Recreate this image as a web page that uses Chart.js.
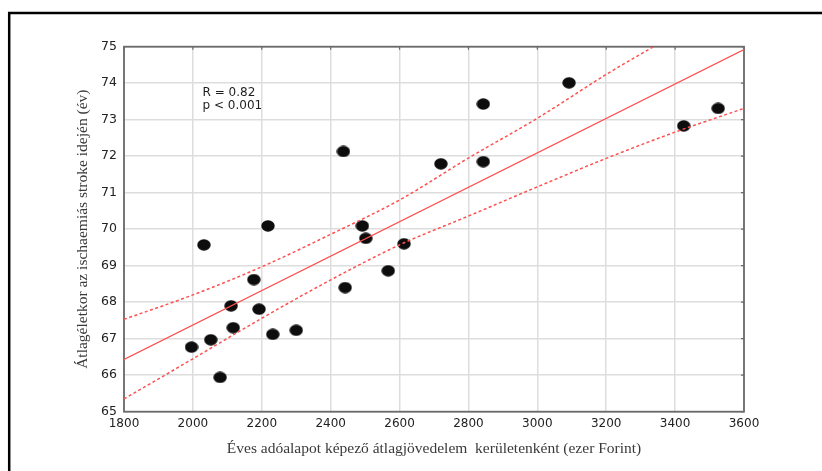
<!DOCTYPE html>
<html>
<head>
<meta charset="utf-8">
<script src="https://cdn.jsdelivr.net/npm/chart.js@4/dist/chart.umd.min.js"></script>
<style>
  html, body { margin: 0; padding: 0; background: #ffffff; overflow: hidden; }
  canvas { display: block; }
</style>
</head>
<body>
<canvas id="chart" width="822" height="471"></canvas>
<script>
// District-level values: mean taxable income (thousand HUF) vs mean age at ischaemic stroke
const incomeThousandHUF = [1996, 2032, 2052, 2079, 2111, 2117, 2177, 2192, 2218, 2232, 2300, 2437, 2442, 2492, 2502, 2567, 2613, 2720, 2843, 2843, 3092, 3425, 3525];
const meanAgeAtStroke   = [66.77, 69.57, 66.97, 65.94, 67.90, 67.30, 68.62, 67.81, 70.09, 67.12, 67.23, 72.13, 68.40, 70.09, 69.75, 68.86, 69.60, 71.79, 71.85, 73.43, 74.01, 72.83, 73.31];

// Fitted regression line
const fitX = [1800, 3600];
const fitY = [66.43, 74.92];

// 95% confidence band of the fit
const upperBandX = [1800, 2000, 2200, 2400, 2600, 2800, 3000, 3200, 3337];
const upperBandY = [67.53, 68.20, 68.97, 69.86, 70.80, 71.95, 73.04, 74.24, 75.00];
const lowerBandX = [1800, 2000, 2200, 2400, 2600, 2800, 3000, 3200, 3400, 3600];
const lowerBandY = [65.35, 66.45, 67.56, 68.61, 69.57, 70.36, 71.16, 71.94, 72.66, 73.31];

// Axis ticks and texts
const xTicks = [1800, 2000, 2200, 2400, 2600, 2800, 3000, 3200, 3400, 3600];
const yTicks = [65, 66, 67, 68, 69, 70, 71, 72, 73, 74, 75];
const statLines = ['R = 0.82', 'p < 0.001'];
const xTitle = 'Éves adóalapot képező átlagjövedelem  kerületenként (ezer Forint)';
const yTitle = 'Átlagéletkor az ischaemiás stroke idején (év)';

const toPoints = (xs, ys) => xs.map((x, i) => ({ x: x, y: ys[i] }));

// Slightly flattened black dot used as the marker
function ellipseMarker(w, h, color) {
  const c = document.createElement('canvas');
  c.width = w; c.height = h;
  const g = c.getContext('2d');
  g.fillStyle = color;
  g.beginPath();
  g.ellipse(w / 2, h / 2, w / 2 - 0.3, h / 2 - 0.3, 0, 0, Math.PI * 2);
  g.fill();
  return c;
}
const dot = ellipseMarker(14, 12, '#0d0d0d');

const RED = 'rgb(255, 80, 80)';
const tickFont = { family: '"DejaVu Sans", sans-serif', size: 12 };
const titleFont = { family: '"Liberation Serif", "Times New Roman", serif', size: 15.5 };

// White page, outer black frame, plot frame with inner tick marks, statistics text
const decorations = {
  id: 'decorations',
  beforeDraw(chart) {
    const ctx = chart.ctx;
    ctx.save();
    ctx.fillStyle = '#ffffff';
    ctx.fillRect(0, 0, chart.width, chart.height);
    ctx.strokeStyle = '#000000';
    ctx.lineWidth = 2.5;
    ctx.beginPath();
    ctx.moveTo(9.2, chart.height + 5);
    ctx.lineTo(9.2, 13);
    ctx.lineTo(chart.width + 5, 13);
    ctx.stroke();
    ctx.restore();
  },
  beforeDatasetsDraw(chart) {
    const { ctx, chartArea: a, scales } = chart;
    ctx.save();
    ctx.strokeStyle = '#6a6a6a';
    ctx.lineWidth = 1.8;
    ctx.strokeRect(a.left, a.top, a.right - a.left, a.bottom - a.top);
    ctx.lineWidth = 1.2;
    ctx.beginPath();
    xTicks.forEach(v => {
      const px = scales.x.getPixelForValue(v);
      ctx.moveTo(px, a.top);
      ctx.lineTo(px, a.top + 3);
    });
    yTicks.forEach(v => {
      const py = scales.y.getPixelForValue(v);
      ctx.moveTo(a.right, py);
      ctx.lineTo(a.right - 3, py);
    });
    ctx.stroke();
    ctx.restore();
  },
  afterDatasetsDraw(chart) {
    const { ctx, scales } = chart;
    ctx.save();
    ctx.font = '12px "DejaVu Sans", sans-serif';
    ctx.fillStyle = '#1e1e1e';
    ctx.textAlign = 'left';
    ctx.textBaseline = 'middle';
    const x0 = scales.x.getPixelForValue(2028);
    const y0 = scales.y.getPixelForValue(73.74);
    statLines.forEach((t, i) => ctx.fillText(t, x0, y0 + i * 13.4));
    ctx.restore();
  }
};

new Chart(document.getElementById('chart'), {
  type: 'scatter',
  data: {
    datasets: [
      {
        label: 'fit',
        data: toPoints(fitX, fitY),
        showLine: true,
        borderColor: RED,
        borderWidth: 1.3,
        pointRadius: 0,
        order: 0
      },
      {
        label: 'upper',
        data: toPoints(upperBandX, upperBandY),
        showLine: true,
        borderColor: RED,
        borderWidth: 1.5,
        borderDash: [3, 2.5],
        pointRadius: 0,
        cubicInterpolationMode: 'monotone',
        tension: 0.4,
        order: 0
      },
      {
        label: 'lower',
        data: toPoints(lowerBandX, lowerBandY),
        showLine: true,
        borderColor: RED,
        borderWidth: 1.5,
        borderDash: [3, 2.5],
        pointRadius: 0,
        cubicInterpolationMode: 'monotone',
        tension: 0.4,
        order: 0
      },
      {
        label: 'districts',
        data: toPoints(incomeThousandHUF, meanAgeAtStroke),
        pointStyle: dot,
        pointRadius: 7,
        backgroundColor: '#0d0d0d',
        borderWidth: 0,
        order: 1
      }
    ]
  },
  options: {
    responsive: false,
    animation: false,
    devicePixelRatio: 1,
    events: [],
    layout: { padding: { left: 70, top: 46.7, right: 78, bottom: 12.6 } },
    plugins: {
      legend: { display: false },
      tooltip: { enabled: false },
      title: { display: false }
    },
    scales: {
      x: {
        type: 'linear',
        min: xTicks[0],
        max: xTicks[xTicks.length - 1],
        afterBuildTicks: s => { s.ticks = xTicks.map(v => ({ value: v })); },
        afterFit: s => { s.height = 46.7; },
        border: { display: false },
        grid: { color: '#dddddd', lineWidth: 1.5, drawTicks: false },
        ticks: { font: tickFont, color: '#222222', padding: 5, maxRotation: 0, callback: v => String(v) },
        title: { display: true, text: xTitle, font: titleFont, color: '#3a3a3a', padding: { top: 0, bottom: 0 } }
      },
      y: {
        type: 'linear',
        min: yTicks[0],
        max: yTicks[yTicks.length - 1],
        afterBuildTicks: s => { s.ticks = yTicks.map(v => ({ value: v })); },
        afterFit: s => { s.width = 54; },
        border: { display: false },
        grid: { color: '#dddddd', lineWidth: 1.5, drawTicks: false },
        ticks: { font: { family: tickFont.family, size: 12.5 }, color: '#222222', padding: 7, callback: v => String(v) },
        title: { display: true, text: yTitle, font: titleFont, color: '#3a3a3a', padding: { top: 4, bottom: 0 } }
      }
    }
  },
  plugins: [decorations]
});
</script>
</body>
</html>
